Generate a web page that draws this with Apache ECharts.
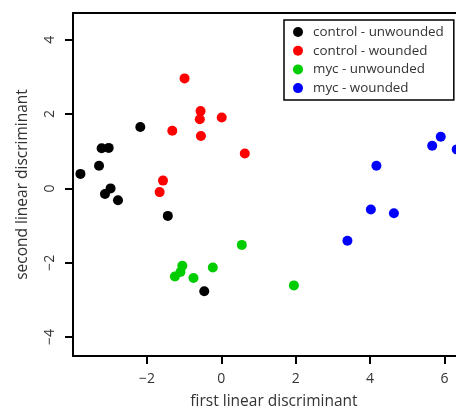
<!DOCTYPE html>
<html>
<head>
<meta charset="utf-8">
<script src="https://cdn.jsdelivr.net/npm/echarts@6/dist/echarts.min.js"></script>
<style>
  html, body { margin: 0; padding: 0; background: #fff; }
  #chart { width: 456px; height: 410px; }
</style>
</head>
<body>
<div id="chart"></div>
<script>
// 数据：每组 [LD1, LD2]
var seriesNames = ['control - unwounded', 'control - wounded', 'myc - unwounded', 'myc - wounded'];
var seriesColors = ['#000000', '#ff0000', '#00cd00', '#0000ff'];

var controlUnwounded = [
  [-3.79, 0.39], [-3.29, 0.61], [-3.22, 1.08], [-3.03, 1.09], [-3.13, -0.15],
  [-2.98, 0.00], [-2.78, -0.32], [-2.18, 1.65], [-1.44, -0.74], [-0.46, -2.77]
];
var controlWounded = [
  [-0.99, 2.96], [-0.56, 2.08], [-0.58, 1.86], [0.01, 1.91], [-1.32, 1.55],
  [-0.55, 1.41], [0.63, 0.94], [-1.57, 0.21], [-1.66, -0.10]
];
var mycUnwounded = [
  [-1.05, -2.08], [-1.10, -2.25], [-1.25, -2.37], [-0.75, -2.41], [-0.23, -2.13],
  [0.55, -1.52], [1.95, -2.61]
];
var mycWounded = [
  [3.39, -1.41], [4.02, -0.57], [4.64, -0.67], [4.17, 0.61], [5.67, 1.15],
  [5.90, 1.39], [6.33, 1.05]
];

var xTicks = [-2, 0, 2, 4, 6];
var yTicks = [-4, -2, 0, 2, 4];

var groups = [controlUnwounded, controlWounded, mycUnwounded, mycWounded];
var fontFamily = '"Open Sans", "Noto Sans", sans-serif';
var textColor = '#333';

function fmt(v) {
  return String(v).replace('-', '\u2212');
}

var myChart = echarts.init(document.getElementById('chart'));
var option = {
  backgroundColor: '#fff',
  animation: false,
  grid: {
    left: 73,
    top: 13,
    right: 0,    // 绘图区右侧被画布截断
    bottom: 54,
    outerBoundsMode: 'none'
  },
  legend: {
    orient: 'vertical',
    left: 284,
    top: 20,
    data: seriesNames,
    icon: 'circle',
    itemWidth: 10,
    itemHeight: 10,
    itemGap: 4.7,
    padding: [5, 10, 5, 9],
    borderColor: '#000',
    borderWidth: 1.5,
    backgroundColor: '#fff',
    textStyle: {
      fontFamily: fontFamily,
      fontSize: 13.4,
      color: textColor,
      lineHeight: 14,
      padding: [0, 0, 0, 5]
    }
  },
  xAxis: [{
    type: 'value',
    min: -3.99,
    max: 6.31,
    name: 'first linear discriminant',
    nameLocation: 'middle',
    nameGap: 38,
    nameTextStyle: { fontFamily: fontFamily, fontSize: 15.5, color: textColor, padding: [0, 0, 0, 19] },
    axisLine: { show: true, onZero: false, lineStyle: { color: '#000', width: 2 } },
    axisTick: { show: true, length: 8, customValues: xTicks, lineStyle: { color: '#000', width: 2 } },
    axisLabel: { customValues: xTicks, margin: 16, fontFamily: fontFamily, fontSize: 14, color: textColor, formatter: fmt },
    splitLine: { show: false }
  }, {
    // 上边框
    type: 'value',
    position: 'top',
    min: -3.99,
    max: 6.31,
    axisLine: { show: true, onZero: false, lineStyle: { color: '#000', width: 2 } },
    axisTick: { show: false },
    axisLabel: { show: false },
    splitLine: { show: false }
  }],
  yAxis: {
    type: 'value',
    min: -4.51,
    max: 4.72,
    name: 'second linear discriminant',
    nameLocation: 'middle',
    nameGap: 42,
    nameTextStyle: { fontFamily: fontFamily, fontSize: 15.5, color: textColor },
    axisLine: { show: true, onZero: false, lineStyle: { color: '#000', width: 2 } },
    axisTick: { show: true, length: 8, customValues: yTicks, lineStyle: { color: '#000', width: 2 } },
    axisLabel: { customValues: yTicks, rotate: 90, margin: 16, fontFamily: fontFamily, fontSize: 14, color: textColor, formatter: fmt },
    splitLine: { show: false }
  },
  series: groups.map(function (d, i) {
    return {
      name: seriesNames[i],
      type: 'scatter',
      data: d,
      symbol: 'circle',
      symbolSize: 10,
      clip: false,
      itemStyle: { color: seriesColors[i], opacity: 1 }
    };
  })
};
myChart.setOption(option);
</script>
</body>
</html>
